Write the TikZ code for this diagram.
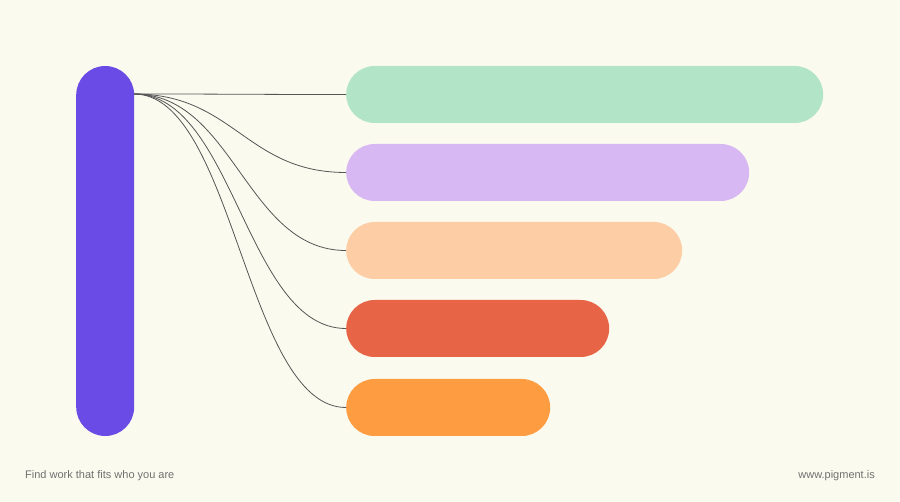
\documentclass[tikz,border=0pt]{standalone}
\usepackage{fontspec}
\setmainfont{Liberation Sans}
\definecolor{paper}{HTML}{FBFAEE}
\definecolor{iris}{HTML}{6A4BE5}
\definecolor{mint}{HTML}{B2E5C8}
\definecolor{lilac}{HTML}{D7B8F2}
\definecolor{apricot}{HTML}{FDCDA5}
\definecolor{brick}{HTML}{E76446}
\definecolor{tangerine}{HTML}{FE9C42}
\definecolor{wire}{HTML}{555555}
\definecolor{ink}{HTML}{707070}
\begin{document}
\begin{tikzpicture}[x=1pt,y=-1pt,
        bar/.style={rounded corners=28.5pt,minimum height=57pt,inner sep=0pt,anchor=west},
        link/.style={draw=wire,line width=0.8pt},
        small/.style={inner sep=0pt,text=ink,font=\fontsize{11}{13}\selectfont}]
        \fill[paper](0,0)rectangle(900,502);
        \useasboundingbox(0,0)rectangle(900,502);
        % the tall pill on the left
        \node[bar,fill=iris,minimum width=58pt,minimum height=370pt,rounded corners=29pt](hub)at(76,251){};
        \coordinate(root)at(134,94);
        % bars and their links
        \foreach \n/\c/\w/\y in {one/mint/477/94.5,two/lilac/403/172.5,three/apricot/336/250.5,four/brick/263/328.5,five/tangerine/204/407.5}
            {
                \node[bar,fill=\c,minimum width=\w pt](\n)at(346,\y){};
                \draw[link](root)..controls +(100,0) and +(-100,0)..(\n.west);
            }
        \node[small,anchor=base west](tagline)at(25,478.5){Find work that fits who you are};
        \node[small,anchor=base east](site)at(875,478.5){www.pigment.is};
    \end{tikzpicture}
\end{document}
